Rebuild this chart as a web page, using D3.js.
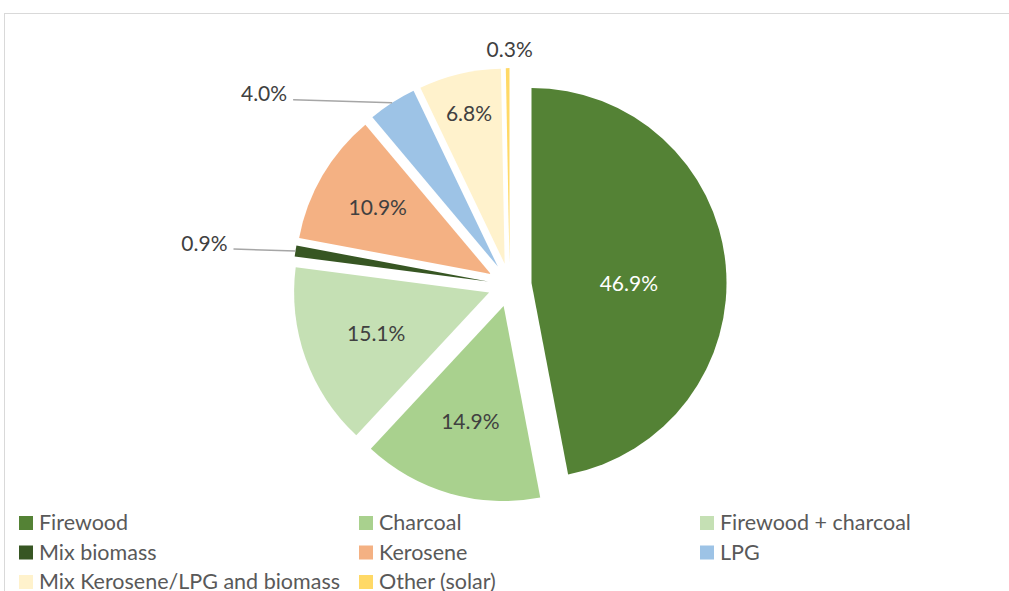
<!DOCTYPE html>
<html>
<head>
<meta charset="utf-8">
<script src="https://cdn.jsdelivr.net/npm/d3@7"></script>
<style>
  html, body { margin: 0; padding: 0; background: #ffffff; overflow: hidden; }
  svg { display: block; }
  text { font-family: Lato, "Noto Sans", sans-serif; }
</style>
</head>
<body>
<svg id="chart" width="1009" height="591"></svg>
<script>
// Household cooking fuel shares (%)
const categories = [
  "Firewood", "Charcoal", "Firewood + charcoal", "Mix biomass",
  "Kerosene", "LPG", "Mix Kerosene/LPG and biomass", "Other (solar)"
];
const shares = [46.9, 14.9, 15.1, 0.9, 10.9, 4.0, 6.8, 0.3];
const sliceColors = [
  "#548235", "#A9D18E", "#C5E0B4", "#375623",
  "#F4B183", "#9DC3E6", "#FFF2CC", "#FFD966"
];

// Layout
const W = 1009, H = 591;
const center = { x: 509.7, y: 285 };
const R = 195;
const explode = 21.9;
const outsideThreshold = 0.05;
// horizontal pull of the call-out labels for the thin slices
const callouts = {
  "Mix biomass": { dx: -62, dy: -2 },
  "LPG": { dx: -99, dy: -3 }
};
// the large slice keeps its label level with the slice tip
const labelNudge = { "Firewood": { dx: -3, dy: 10 } };

const data = categories.map((c, i) => ({ name: c, value: shares[i], color: sliceColors[i] }));
const total = d3.sum(shares);

const svg = d3.select("#chart");

// chart frame (extends beyond the visible area)
svg.append("rect")
  .attr("x", 4.5).attr("y", 13.5)
  .attr("width", W + 50).attr("height", H + 50)
  .attr("fill", "#ffffff")
  .attr("stroke", "#D9D9D9").attr("stroke-width", 1);

const pie = d3.pie().sort(null).value(d => d.value).startAngle(0).endAngle(2 * Math.PI);
const arc = d3.arc().innerRadius(0).outerRadius(R);
const arcs = pie(data);

const dir = a => [Math.sin(a), -Math.cos(a)];

arcs.forEach(a => {
  a.mid = (a.startAngle + a.endAngle) / 2;
  const [ux, uy] = dir(a.mid);
  a.u = [ux, uy];
  a.apex = [center.x + ux * explode, center.y + uy * explode];
  a.frac = a.data.value / total;
});

const g = svg.append("g");

g.selectAll("path.slice")
  .data(arcs)
  .join("path")
  .attr("class", "slice")
  .attr("transform", d => `translate(${d.apex[0]},${d.apex[1]})`)
  .attr("d", arc)
  .attr("fill", d => d.data.color);

const fmt = v => d3.format(".1f")(v) + "%";

// labels inside the larger slices
const inside = arcs.filter(d => d.frac >= outsideThreshold);
const inPos = d => {
  const k = R * (0.47 + 0.022 / d.frac);
  const n = labelNudge[d.data.name] || { dx: 0, dy: 0 };
  return [d.apex[0] + d.u[0] * k + n.dx, d.apex[1] + d.u[1] * k + n.dy];
};
g.selectAll("text.inlabel")
  .data(inside)
  .join("text")
  .attr("class", "inlabel")
  .attr("x", d => inPos(d)[0])
  .attr("y", d => inPos(d)[1])
  .attr("text-anchor", "middle")
  .attr("dy", "0.36em")
  .attr("font-size", 21)
  .attr("fill", d => d.data.name === "Firewood" ? "#ffffff" : "#404040")
  .text(d => fmt(d.data.value));

// call-out labels for the thin slices
const outside = arcs.filter(d => d.frac < outsideThreshold);
outside.forEach(d => {
  const edge = [d.apex[0] + d.u[0] * R, d.apex[1] + d.u[1] * R];
  const c = callouts[d.data.name];
  if (c) {
    const end = [edge[0] + c.dx, edge[1] + c.dy];
    g.append("line")
      .attr("x1", edge[0]).attr("y1", edge[1])
      .attr("x2", end[0]).attr("y2", end[1])
      .attr("stroke", "#A6A6A6").attr("stroke-width", 1.5);
    g.append("text")
      .attr("x", end[0] - 6).attr("y", end[1] - 6)
      .attr("text-anchor", "end")
      .attr("dy", "0.36em")
      .attr("font-size", 21)
      .attr("fill", "#404040")
      .text(fmt(d.data.value));
  } else {
    g.append("text")
      .attr("x", edge[0] + 2).attr("y", edge[1] - 19)
      .attr("text-anchor", "middle")
      .attr("dy", "0.36em")
      .attr("font-size", 21)
      .attr("fill", "#404040")
      .text(fmt(d.data.value));
  }
});

// legend, three columns in row order
const legendCols = [19, 359, 700];
const legendRow0 = 530, legendRowStep = 29.5;
const leg = svg.append("g").selectAll("g")
  .data(data)
  .join("g")
  .attr("transform", (d, i) => `translate(${legendCols[i % 3]},${legendRow0 + Math.floor(i / 3) * legendRowStep})`);
leg.append("rect")
  .attr("x", 0).attr("y", -14)
  .attr("width", 14).attr("height", 14)
  .attr("fill", d => d.color);
leg.append("text")
  .attr("x", 20).attr("y", 0)
  .attr("font-size", 21.5)
  .attr("fill", "#595959")
  .text(d => d.name);
</script>
</body>
</html>
